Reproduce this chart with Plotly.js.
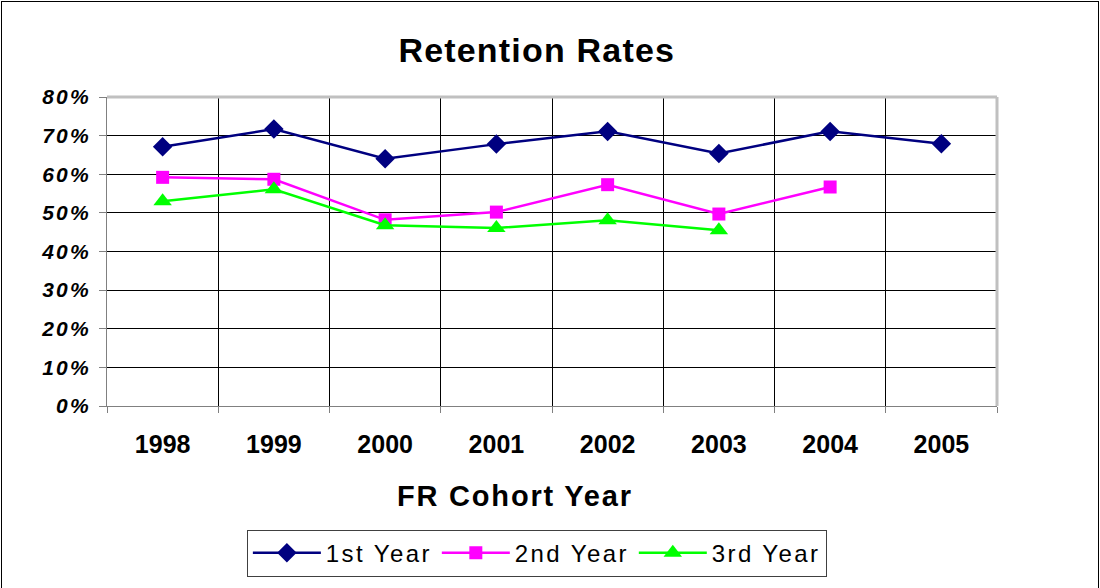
<!DOCTYPE html>
<html>
<head>
<meta charset="utf-8">
<script src="https://cdn.plot.ly/plotly-3.0.1.min.js"></script>
<style>
html,body{margin:0;padding:0;background:#fff;}
#wrap{position:relative;width:1100px;height:588px;}
#chart{width:1100px;height:588px;}
#frame{position:absolute;left:1px;top:1px;width:1096px;height:600px;border:1px solid #000;pointer-events:none;}
.gtitle{letter-spacing:1.2px;}
.annotation-text{letter-spacing:1.8px;}
.legendtext{letter-spacing:2.4px;}
.ytick text{letter-spacing:2.2px;}
</style>
</head>
<body>
<div id="wrap"><div id="chart"></div><div id="frame"></div></div>
<script>
const years = ["1998","1999","2000","2001","2002","2003","2004","2005"];
const firstYear  = [0.671, 0.717, 0.640, 0.678, 0.711, 0.654, 0.711, 0.679];
const secondYear = [0.592, 0.587, 0.482, 0.502, 0.573, 0.497, 0.567, null];
const thirdYear  = [0.530, 0.561, 0.468, 0.461, 0.481, 0.455, null, null];

const fontFam = "Arial, 'Liberation Sans', sans-serif";

const traces = [
  {x: years, y: firstYear, name: "1st Year", type: "scatter", mode: "lines+markers",
   line: {color: "#000080", width: 2.5}, marker: {symbol: "diamond", size: 15, color: "#000080"}},
  {x: years, y: secondYear, name: "2nd Year", type: "scatter", mode: "lines+markers",
   line: {color: "#FF00FF", width: 2.5}, marker: {symbol: "square", size: 13, color: "#FF00FF"}},
  {x: years, y: thirdYear, name: "3rd Year", type: "scatter", mode: "lines+markers",
   line: {color: "#00FF00", width: 2.5}, marker: {symbol: "triangle-up", size: 16, color: "#00FF00"}}
];

const layout = {
  width: 1100, height: 588,
  margin: {l: 107, r: 103, t: 97, b: 182},
  paper_bgcolor: "#fff", plot_bgcolor: "#fff",
  font: {family: fontFam, color: "#000"},
  showlegend: true,
  title: {text: "Retention Rates", font: {family: fontFam, size: 34, weight: "bold", color: "#000"},
          xref: "container", x: 0.488, xanchor: "center", yref: "container", y: 0.914, yanchor: "middle"},
  xaxis: {
    type: "category", range: [-0.5, 7.5], tickson: "boundaries",
    showgrid: true, gridcolor: "#000", gridwidth: 1,
    showline: true, linecolor: "#808080", linewidth: 1, mirror: false,
    ticks: "outside", ticklen: 6, tickcolor: "#808080",
    tickfont: {family: fontFam, size: 25, weight: "bold", color: "#000"},
    ticklabelstandoff: 16,
    zeroline: false, fixedrange: true
  },
  yaxis: {
    range: [0, 0.8], dtick: 0.1, tickformat: ".0%",
    showgrid: true, gridcolor: "#000", gridwidth: 1,
    showline: true, linecolor: "#808080", linewidth: 1,
    ticks: "outside", ticklen: 7, tickcolor: "#808080",
    tickfont: {family: fontFam, size: 21, weight: "bold", style: "italic", color: "#000"},
    ticklabelstandoff: 4,
    zeroline: false, fixedrange: true
  },
  annotations: [
    {text: "FR Cohort Year", xref: "paper", yref: "paper", x: 0.458, y: -0.291,
     xanchor: "center", yanchor: "middle", showarrow: false,
     font: {family: fontFam, size: 29, weight: "bold", color: "#000"}}
  ],
  shapes: [
    {type: "line", xref: "paper", yref: "paper", x0: 0, x1: 1, y0: 1, y1: 1, line: {color: "#c0c0c0", width: 3}},
    {type: "line", xref: "paper", yref: "paper", x0: 1, x1: 1, y0: 0, y1: 1, line: {color: "#c0c0c0", width: 3}}
  ],
  legend: {
    orientation: "h", xref: "paper", yref: "paper", x: 0.483, xanchor: "center", y: -0.4, yanchor: "top",
    bordercolor: "#404040", borderwidth: 1, bgcolor: "#fff",
    font: {family: fontFam, size: 24, color: "#000"},
    itemwidth: 68, tracegroupgap: 0
  }
};

Plotly.newPlot("chart", traces, layout, {displayModeBar: false, staticPlot: true});
</script>
</body>
</html>
